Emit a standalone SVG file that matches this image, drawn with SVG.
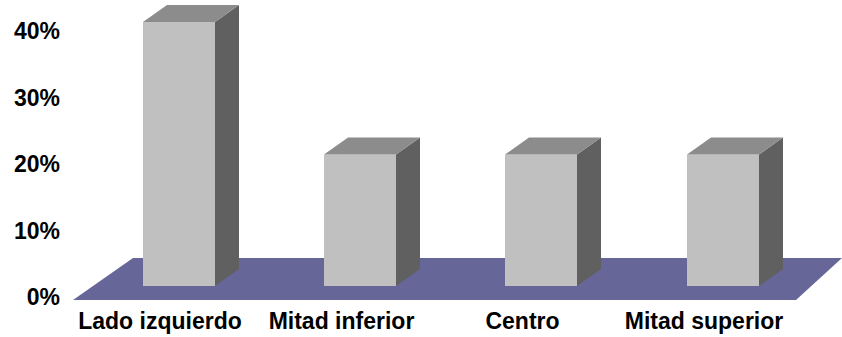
<svg xmlns="http://www.w3.org/2000/svg" width="842" height="337" viewBox="0 0 842 337">
<style>
.front{fill:#C0C0C0}
.side{fill:#606060}
.top{fill:#8C8C8C}
.floor{fill:#666699}
text{font-family:"Liberation Sans",Arial,sans-serif;font-weight:bold;font-size:23px;fill:#000}
.ax{text-anchor:end}
.cat{text-anchor:middle}
</style>
<rect width="842" height="337" fill="#fff"/>
<g id="floor"><polygon class="floor" points="73,300 133,258 842,258 796,300"/></g>
<g id="axis">
<text class="ax" x="60" y="39">40%</text>
<text class="ax" x="60" y="105.5">30%</text>
<text class="ax" x="60" y="172">20%</text>
<text class="ax" x="60" y="238.5">10%</text>
<text class="ax" x="60" y="305">0%</text>
</g>
<g id="bar1">
<rect class="front" x="143" y="22" width="72" height="264"/>
<polygon class="side" points="215,22 239,5 239,269 215,286"/>
<polygon class="top" points="143,22 167,5 239,5 215,22"/>
</g>
<g id="bar2">
<rect class="front" x="324" y="154.5" width="72" height="131.5"/>
<polygon class="side" points="396,154.5 420,137.5 420,269 396,286"/>
<polygon class="top" points="324,154.5 348,137.5 420,137.5 396,154.5"/>
</g>
<g id="bar3">
<rect class="front" x="505" y="154.5" width="72" height="131.5"/>
<polygon class="side" points="577,154.5 601,137.5 601,269 577,286"/>
<polygon class="top" points="505,154.5 529,137.5 601,137.5 577,154.5"/>
</g>
<g id="bar4">
<rect class="front" x="687" y="154.5" width="72" height="131.5"/>
<polygon class="side" points="759,154.5 783,137.5 783,269 759,286"/>
<polygon class="top" points="687,154.5 711,137.5 783,137.5 759,154.5"/>
</g>
<g id="labels">
<text class="cat" x="160" y="329">Lado izquierdo</text>
<text class="cat" x="341.5" y="329">Mitad inferior</text>
<text class="cat" x="522.5" y="329">Centro</text>
<text class="cat" x="704" y="329">Mitad superior</text>
</g>
<g id="connectors"/>
</svg>
